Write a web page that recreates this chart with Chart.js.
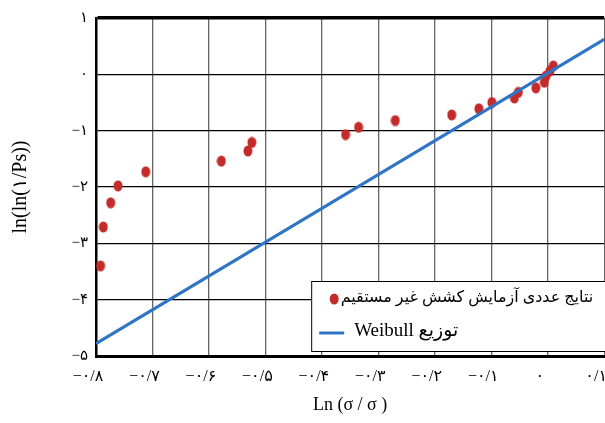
<!DOCTYPE html>
<html>
<head>
<meta charset="utf-8">
<script src="https://cdn.jsdelivr.net/npm/chart.js@4.4.1/dist/chart.umd.min.js"></script>
<style>
  html, body { margin: 0; padding: 0; background: #fff; overflow: hidden; width: 605px; height: 423px; }
  /* the original figure is cropped on the right, so the canvas runs past the window */
  #wrap { width: 626px; height: 423px; position: relative; }
</style>
</head>
<body>
<div id="wrap"><canvas id="myChart"></canvas></div>
<script>
// test results (numeric tensile test)
const testX = [-0.792, -0.787, -0.774, -0.761, -0.712, -0.578, -0.531, -0.524, -0.358, -0.335,
               -0.270, -0.170, -0.122, -0.099, -0.059, -0.052, -0.021, -0.006, -0.003, 0.004, 0.010];
const testY = [-3.40, -2.71, -2.28, -1.98, -1.73, -1.54, -1.36, -1.21, -1.07, -0.94,
               -0.82, -0.72, -0.61, -0.50, -0.42, -0.32, -0.24, -0.14, -0.03, 0.06, 0.15];

// Weibull fit line end points
const weibullX = [-0.8, 0.1];
const weibullY = [-4.78, 0.62];

const xTicks = [-0.8, -0.7, -0.6, -0.5, -0.4, -0.3, -0.2, -0.1, 0, 0.1];
const xTickLabels = ["−۰/۸", "−۰/۷", "−۰/۶", "−۰/۵", "−۰/۴", "−۰/۳", "−۰/۲", "−۰/۱", "۰", "۰/۱"];
const yTicks = [-5, -4, -3, -2, -1, 0, 1];
const yTickLabels = ["−۵", "−۴", "−۳", "−۲", "−۱", "۰", "۱"];

const seriesNames = ["نتایج عددی آزمایش کشش غیر مستقیم", "توزیع Weibull"];

const RED = "rgb(196, 44, 44)";
const BLUE = "rgb(46, 117, 198)";
const FONT = "'Liberation Serif', 'DejaVu Sans', serif";

// slightly tall elliptical marker like the original
const dot = document.createElement("canvas");
dot.width = 10;
dot.height = 12;
(function () {
  const d = dot.getContext("2d");
  d.fillStyle = RED;
  d.beginPath();
  d.ellipse(5, 6, 4.5, 5.5, 0, 0, Math.PI * 2);
  d.fill();
})();

// legend box in the lower right corner
const legendBox = {
  id: "legendBox",
  afterDatasetsDraw(chart) {
    const c = chart.ctx;
    const area = chart.chartArea;
    const x0 = area.right - 293;
    const y0 = 281;
    c.save();
    c.fillStyle = "#fff";
    c.fillRect(x0, y0, 320, 71);
    c.strokeStyle = "#000";
    c.lineWidth = 1;
    c.strokeRect(x0 + 0.5, y0 + 0.5, 320, 70);

    c.fillStyle = RED;
    c.beginPath();
    c.ellipse(x0 + 23, y0 + 18, 4.5, 5.5, 0, 0, Math.PI * 2);
    c.fill();

    c.strokeStyle = BLUE;
    c.lineWidth = 3;
    c.beginPath();
    c.moveTo(x0 + 8, y0 + 52);
    c.lineTo(x0 + 33, y0 + 52);
    c.stroke();

    c.fillStyle = "#000";
    c.direction = "rtl";
    c.textBaseline = "middle";
    c.font = "16px " + FONT;
    c.textAlign = "right";
    c.fillText(chart.data.datasets[0].label, area.right - 11, y0 + 17);
    c.font = "19px " + FONT;
    c.textAlign = "left";
    c.fillText(chart.data.datasets[1].label, x0 + 43, y0 + 50);
    c.restore();
  }
};

const ctx = document.getElementById("myChart").getContext("2d");
const myChart = new Chart(ctx, {
  type: "scatter",
  data: {
    datasets: [
      {
        label: seriesNames[0],
        data: testX.map((x, i) => ({ x: x, y: testY[i] })),
        pointStyle: dot,
        pointRadius: 5,
        backgroundColor: RED,
        borderWidth: 0,
        order: 1,
      },
      {
        type: "line",
        label: seriesNames[1],
        data: weibullX.map((x, i) => ({ x: x, y: weibullY[i] })),
        borderColor: BLUE,
        borderWidth: 3,
        pointRadius: 0,
        fill: false,
        order: 0,
      },
    ],
  },
  options: {
    responsive: true,
    maintainAspectRatio: false,
    animation: false,
    layout: {
      autoPadding: false,
      padding: { left: 0, right: 0, top: 18, bottom: 0 },
    },
    plugins: {
      legend: { display: false },
      tooltip: { enabled: false },
    },
    scales: {
      x: {
        type: "linear",
        min: -0.8,
        max: 0.1,
        afterBuildTicks: (s) => { s.ticks = xTicks.map((v) => ({ value: v })); },
        afterFit: (s) => { s.height = 67; },
        ticks: {
          callback: (v, i) => xTickLabels[i],
          font: { size: 16, family: FONT },
          color: "#000",
          padding: 11,
          labelOffset: -8,
          maxRotation: 0,
          autoSkip: false,
        },
        grid: { color: "#666", lineWidth: 1.3, drawTicks: false },
        border: { color: "#000", width: 3 },
        title: {
          display: true,
          text: "Ln (σ / σ )",
          color: "#000",
          font: { size: 18, family: FONT },
          padding: { top: 0, bottom: 7 },
        },
      },
      y: {
        min: -5,
        max: 1,
        afterBuildTicks: (s) => { s.ticks = yTicks.map((v) => ({ value: v })); },
        afterFit: (s) => { s.width = 96; },
        ticks: {
          callback: (v, i) => yTickLabels[i],
          font: { size: 15, family: FONT },
          color: "#000",
          padding: 8,
        },
        grid: {
          color: "#000",
          lineWidth: (c) => (c.tick && c.tick.value === 1 ? 3.5 : 1.3),
          drawTicks: false,
        },
        border: { color: "#000", width: 2.5 },
        title: {
          display: true,
          text: "ln(ln(۱/Ps))",
          color: "#000",
          font: { size: 20, family: FONT },
          padding: { top: 9, bottom: 0 },
        },
      },
    },
  },
  plugins: [legendBox],
});
</script>
</body>
</html>
